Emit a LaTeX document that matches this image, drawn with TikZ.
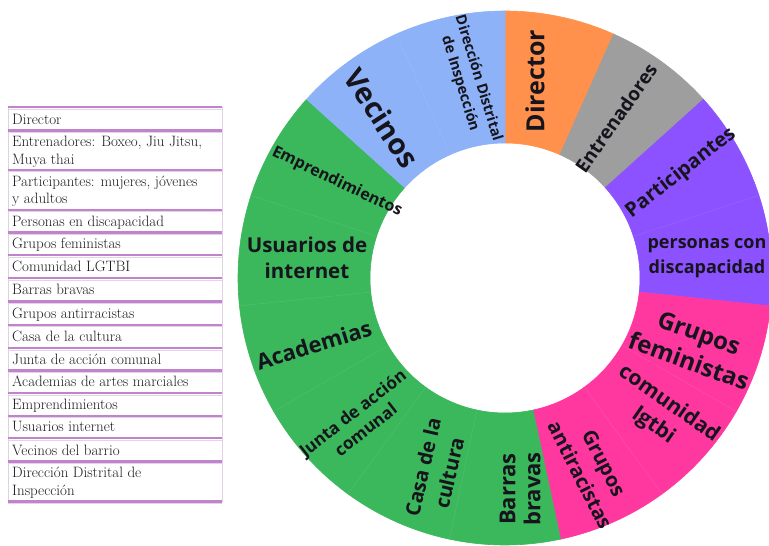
\documentclass[tikz,border=0pt]{standalone}
\usepackage{fontspec}
\newfontfamily\ringfont{Open Sans}
\definecolor{cBlue}{RGB}{141,178,248}
\definecolor{cOrange}{RGB}{255,145,77}
\definecolor{cGray}{RGB}{158,158,158}
\definecolor{cPurple}{RGB}{140,82,255}
\definecolor{cPink}{RGB}{255,56,160}
\definecolor{cGreen}{RGB}{59,183,92}
\definecolor{inkc}{RGB}{22,20,28}
\definecolor{rowc}{RGB}{192,132,202}
\definecolor{rowshade}{RGB}{232,208,236}
\definecolor{sidec}{RGB}{222,210,226}
\definecolor{tabtxt}{RGB}{28,28,28}
\begin{document}
\begin{tikzpicture}[x=1pt,y=1pt,
  fs/.style 2 args={font=\ringfont\bfseries\fontsize{#1}{#2}\selectfont},
  lbl/.style={text=inkc, align=center, inner sep=0pt},
  rowtxt/.style={anchor=base west, inner sep=0pt, text=tabtxt, font=\fontsize{15}{17.5}\selectfont},
  rowline/.style={line width=2.4pt, draw=rowc},
  rowshadow/.style={line width=1.2pt, draw=rowshade},
  sideline/.style={line width=0.7pt, draw=sidec},
  seam/.style={draw=white, opacity=0.08, line width=0.7pt}]
\useasboundingbox (0,0) rectangle (769,546);
\fill[white] (0,0) rectangle (769,546);
\coordinate (C) at (505,268);
% ring sectors
\begin{scope}[shift={(C)}]
\foreach \a/\col in {66/cOrange, 42/cGray, 18/cPurple, -6/cPurple, -30/cPink, -54/cPink, -78/cPink, -102/cGreen, -126/cGreen, -150/cGreen, -174/cGreen, 162/cGreen, 138/cGreen, 114/cBlue, 90/cBlue}{
  \pgfmathsetmacro\b{\a+24}
  \filldraw[fill=\col, draw=\col, line width=0.6pt, line join=round] (\a:267) arc[start angle=\a, end angle=\b, radius=267] -- (\b:135) arc[start angle=\b, end angle=\a, radius=135] -- cycle;
}
\foreach \a in {18,-30,-54,-102,-126,-150,-174,162,114}{
  \draw[seam] (\a:135.5) -- (\a:266.5);
}
\end{scope}
% ring labels
\node[lbl, fs={25}{25}, rotate=90] (director) at (535,465) {Director};
\node[lbl, fs={19}{23}, rotate=55] (entren) at (616,428) {Entrenadores};
\node[lbl, fs={20}{24}, rotate=38] (partic) at (681,373) {Participantes};
\node[lbl, fs={18}{25}] (personas) at (707,288) {personas con\\discapacidad};
\node[lbl, fs={24}{30}, rotate=-20] (feministas) at (694,199) {Grupos\\feministas};
\node[lbl, fs={21}{27}, rotate=-35] (lgtbi) at (661,131) {comunidad\\lgtbi};
\node[lbl, fs={20}{27}, rotate=-63] (antirr) at (592,77) {Grupos\\antiracistas};
\node[lbl, fs={22}{25}, rotate=90] (barras) at (520,57) {Barras\\bravas};
\node[lbl, fs={20}{27}, rotate=77] (casa) at (436,76) {Casa de la\\cultura};
\node[lbl, fs={17}{21}, rotate=38] (junta) at (359,125) {Junta de acción\\comunal};
\node[lbl, fs={22}{26}, rotate=17] (academias) at (314,201) {Academias};
\node[lbl, fs={20.5}{26}] (usuarios) at (307,288) {Usuarios de\\internet};
\node[lbl, fs={16}{20}, rotate=-25.6] (empr) at (337,364) {Emprendimientos};
\node[lbl, fs={29}{32}, rotate=-57] (vecinos) at (382,428) {Vecinos};
\node[lbl, fs={14.5}{19}, rotate=-73] (direccion) at (469,465) {Dirección Distrital\\de Inspección};
% table
\draw[sideline] (8,438.7) -- (8,44.3);
\draw[sideline] (222,438.7) -- (222,44.3);
\foreach \y in {438.7,415.3,376,336,313.3,290.7,267.7,244.5,221,197.7,175.3,152.7,130,107.7,84.3,44.3}{
  \draw[rowshadow] (8,\y-1.9) -- (222,\y-1.9);
  \draw[rowline] (8,\y) -- (222,\y);
}
\node[rowtxt] (t1) at (12,421.5) {Director};
\node[rowtxt] (t2a) at (12,399) {Entrenadores: Boxeo, Jiu Jitsu,};
\node[rowtxt] (t2b) at (12,381.5) {Muya thai};
\node[rowtxt] (t3a) at (12,359.5) {Participantes: mujeres, jóvenes};
\node[rowtxt] (t3b) at (12,342) {y adultos};
\node[rowtxt] (t4) at (12,319.5) {Personas en discapacidad};
\node[rowtxt] (t5) at (12,297) {Grupos feministas};
\node[rowtxt] (t6) at (12,274) {Comunidad LGTBI};
\node[rowtxt] (t7) at (12,251) {Barras bravas};
\node[rowtxt] (t8) at (12,227.5) {Grupos antirracistas};
\node[rowtxt] (t9) at (12,204.2) {Casa de la cultura};
\node[rowtxt] (t10) at (12,181.8) {Junta de acción comunal};
\node[rowtxt] (t11) at (12,159.2) {Academias de artes marciales};
\node[rowtxt] (t12) at (12,136.5) {Emprendimientos};
\node[rowtxt] (t13) at (12,114.2) {Usuarios internet};
\node[rowtxt] (t14) at (12,90.8) {Vecinos del barrio};
\node[rowtxt] (t15a) at (12,68.3) {Dirección Distrital de};
\node[rowtxt] (t15b) at (12,50.8) {Inspección};
\end{tikzpicture}
\end{document}
